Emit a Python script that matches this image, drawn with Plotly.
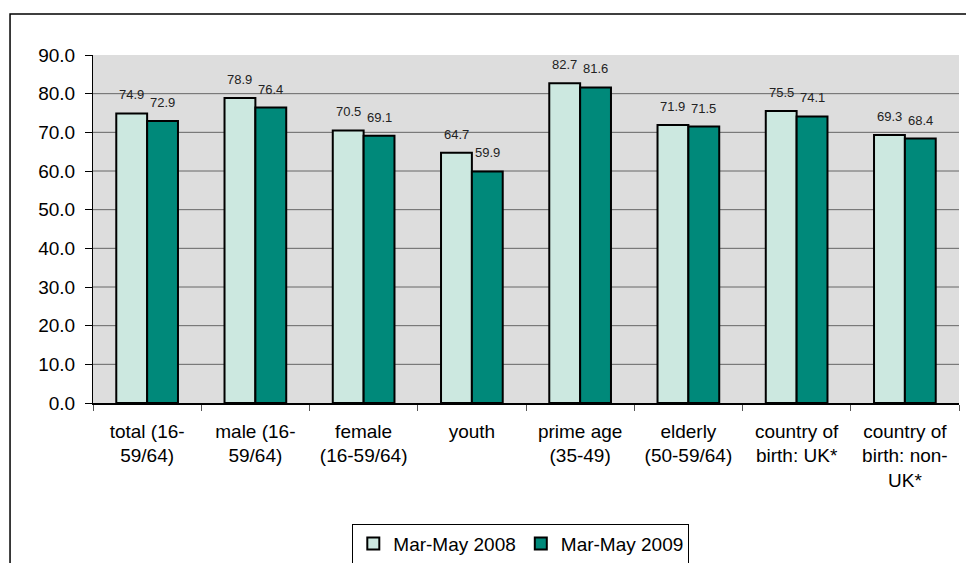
import plotly.graph_objects as go

# Employment rates by group, Mar-May 2008 vs Mar-May 2009
categories = [
    "total (16-<br>59/64)",
    "male (16-<br>59/64)",
    "female<br>(16-59/64)",
    "youth",
    "prime age<br>(35-49)",
    "elderly<br>(50-59/64)",
    "country of<br>birth: UK*",
    "country of<br>birth: non-<br>UK*",
]
series_names = ["Mar-May 2008", "Mar-May 2009"]
rates_2008 = [74.9, 78.9, 70.5, 64.7, 82.7, 71.9, 75.5, 69.3]
rates_2009 = [72.9, 76.4, 69.1, 59.9, 81.6, 71.5, 74.1, 68.4]
y_ticks = [0, 10, 20, 30, 40, 50, 60, 70, 80, 90]

FONT = "Liberation Sans, Arial, sans-serif"
colors = ["#CCE8E0", "#00897A"]

fig = go.Figure()
for name, vals, col in zip(series_names, [rates_2008, rates_2009], colors):
    fig.add_trace(go.Bar(
        x=categories, y=vals, name=name,
        marker=dict(color=col, line=dict(color="#000000", width=2)),
    ))

# value labels above each bar
annotations = []
for shift, vals in zip([-15.5, 15.5], [rates_2008, rates_2009]):
    for cat, v in zip(categories, vals):
        annotations.append(dict(
            x=cat, y=v, xref="x", yref="y", text=f"{v:.1f}",
            showarrow=False, xshift=shift, yanchor="bottom", yshift=9,
            font=dict(family=FONT, size=13, color="#222222"),
        ))

# horizontal gridlines (none along the top edge)
shapes = [dict(type="line", xref="paper", yref="y", x0=0, x1=1, y0=t, y1=t,
               line=dict(color="#666666", width=1), layer="between")
          for t in y_ticks[1:-1]]
# outer chart frame
shapes.append(dict(type="rect", xref="paper", yref="paper",
                   x0=-0.0958, x1=1.02, y0=-0.5, y1=1.1178,
                   line=dict(color="#000000", width=1.5), layer="below"))

fig.update_layout(
    width=966, height=563,
    margin=dict(l=93, r=7, t=55, b=160, autoexpand=False),
    paper_bgcolor="#FFFFFF",
    plot_bgcolor="#DDDDDD",
    barmode="group", bargap=0.43, bargroupgap=0,
    font=dict(family=FONT, size=19, color="#000000"),
    showlegend=True,
    legend=dict(
        orientation="h", x=0.494, xanchor="center",
        yref="container", y=0.07, yanchor="top",
        bordercolor="#000000", borderwidth=1, bgcolor="#FFFFFF",
        font=dict(family=FONT, size=19, color="#000000"),
        itemwidth=30, tracegroupgap=0,
    ),
    annotations=annotations,
    shapes=shapes,
)
fig.update_yaxes(
    range=[0, 90], tickvals=y_ticks, tickformat=".1f",
    showgrid=False, zeroline=False, automargin=False,
    showline=True, linecolor="#000000", linewidth=1,
    ticks="outside", ticklen=7, tickcolor="#000000",
    ticklabelstandoff=6,
    tickfont=dict(family=FONT, size=19, color="#000000"),
)
fig.update_xaxes(
    showgrid=False, showline=True, linecolor="#000000", linewidth=1.5,
    automargin=False,
    ticks="outside", tickson="boundaries", ticklen=6, tickcolor="#555555",
    ticklabelstandoff=10,
    tickfont=dict(family=FONT, size=19, color="#000000"),
)

fig.write_html("out.html")
